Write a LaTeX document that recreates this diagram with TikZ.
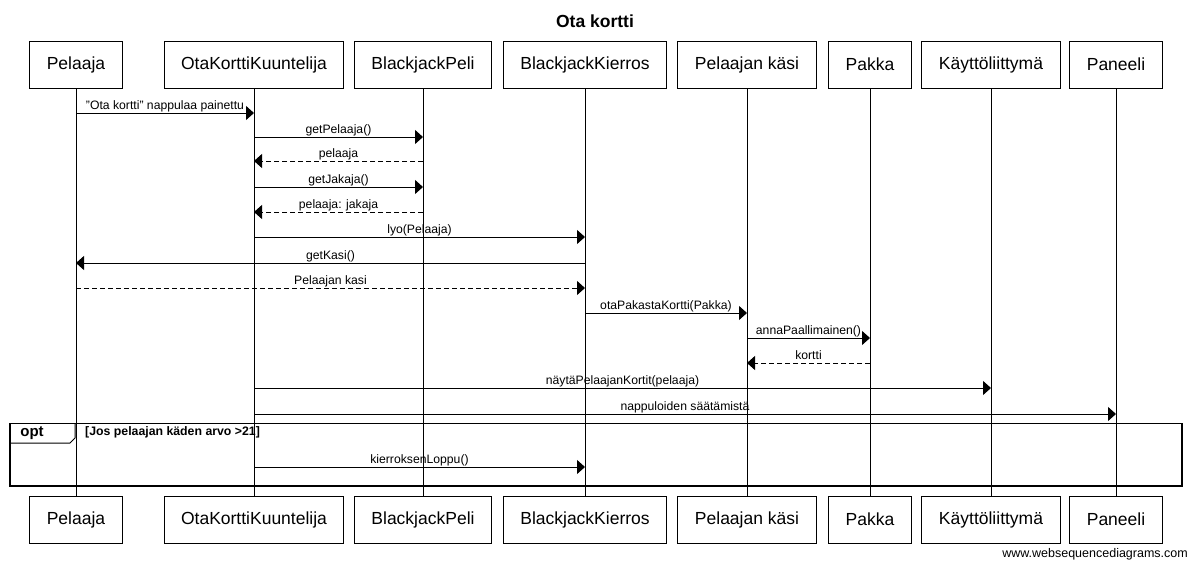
\documentclass[tikz,border=0pt]{standalone}
\usepackage{fontspec}
\setmainfont{Liberation Sans}
\usetikzlibrary{arrows.meta}
\tikzset{>/.tip={Triangle[length=8pt,width=14pt]}}
\tikzset{
  actor/.style={draw, line width=1pt, minimum height=47pt, inner xsep=17pt,
    font=\fontsize{17.5}{21}\selectfont},
  call/.style={->, line width=1pt},
  reply/.style={call, dash pattern=on 5pt off 3pt},
  msglabel/.style={anchor=south, inner sep=0pt, text depth=0pt, yshift=3pt,
    font=\fontsize{12.2}{14}\selectfont}
}

\begin{document}
\begin{tikzpicture}[x=1pt, y=-1pt]
\useasboundingbox[fill=white] (0,0) rectangle (1190,562);

\node[font=\bfseries\fontsize{17.5}{21}\selectfont] (title) at (595,21) {Ota kortti};

% osallistujat ylhaalla
\node[actor] (pel-top) at (76,64.5)   {Pelaaja};
\node[actor] (okk-top) at (254,64.5)  {OtaKorttiKuuntelija};
\node[actor] (bjp-top) at (423,64.5)  {BlackjackPeli};
\node[actor] (bjk-top) at (585,64.5)  {BlackjackKierros};
\node[actor] (kas-top) at (747,64.5)  {Pelaajan käsi};
\node[actor] (pak-top) at (870,64.5)  {Pakka};
\node[actor] (ui-top)  at (991,64.5)  {Käyttöliittymä};
\node[actor] (pan-top) at (1116,64.5) {Paneeli};

% osallistujat alhaalla
\node[actor] (pel-bot) at (76,519.5)   {Pelaaja};
\node[actor] (okk-bot) at (254,519.5)  {OtaKorttiKuuntelija};
\node[actor] (bjp-bot) at (423,519.5)  {BlackjackPeli};
\node[actor] (bjk-bot) at (585,519.5)  {BlackjackKierros};
\node[actor] (kas-bot) at (747,519.5)  {Pelaajan käsi};
\node[actor] (pak-bot) at (870,519.5)  {Pakka};
\node[actor] (ui-bot)  at (991,519.5)  {Käyttöliittymä};
\node[actor] (pan-bot) at (1116,519.5) {Paneeli};

% elamanviivat
\foreach \a in {pel,okk,bjp,bjk,kas,pak,ui,pan}
  \draw[line width=1pt] (\a-top) -- (\a-bot);

% viestirivit
\coordinate (m1) at (0,113);
\coordinate (m2) at (0,137);
\coordinate (m3) at (0,161);
\coordinate (m4) at (0,187);
\coordinate (m5) at (0,212);
\coordinate (m6) at (0,237);
\coordinate (m7) at (0,263);
\coordinate (m8) at (0,288);
\coordinate (m9) at (0,313);
\coordinate (m10) at (0,338);
\coordinate (m11) at (0,363);
\coordinate (m12) at (0,388);
\coordinate (m13) at (0,414);
\coordinate (m14) at (0,467);

\path[call] (pel-top |- m1) edge node[msglabel] {\symbol{34}Ota kortti\symbol{34} nappulaa painettu} (okk-top |- m1);
\path[call] (okk-top |- m2) edge node[msglabel] {getPelaaja()} (bjp-top |- m2);
\path[reply] (bjp-top |- m3) edge node[msglabel] {pelaaja} (okk-top |- m3);
\path[call] (okk-top |- m4) edge node[msglabel] {getJakaja()} (bjp-top |- m4);
\path[reply] (bjp-top |- m5) edge node[msglabel] {pelaaja: jakaja} (okk-top |- m5);
\path[call] (okk-top |- m6) edge node[msglabel] {lyo(Pelaaja)} (bjk-top |- m6);
\path[call] (bjk-top |- m7) edge node[msglabel] {getKasi()} (pel-top |- m7);
\path[reply] (pel-top |- m8) edge node[msglabel] {Pelaajan kasi} (bjk-top |- m8);
\path[call] (bjk-top |- m9) edge node[msglabel] {otaPakastaKortti(Pakka)} (kas-top |- m9);
\path[call] (kas-top |- m10) edge node[msglabel] {annaPaallimainen()} (pak-top |- m10);
\path[reply] (pak-top |- m11) edge node[msglabel] {kortti} (kas-top |- m11);
\path[call] (okk-top |- m12) edge node[msglabel] {näytäPelaajanKortit(pelaaja)} (ui-top |- m12);
\path[call] (okk-top |- m13) edge node[msglabel] {nappuloiden säätämistä} (pan-top |- m13);

% opt-kehys
\draw[line width=1.6pt] (10,423.5) rectangle (1182,486);
\draw[line width=1pt] (10,443) -- (70,443) -- (75,438) -- (75,423.5);
\node[font=\bfseries\fontsize{15}{17}\selectfont, inner sep=0pt] (opt) at (32,433) {opt};
\node[anchor=north west, inner sep=0pt, font=\bfseries\fontsize{12.3}{14}\selectfont] (cond) at (85,426) {[Jos pelaajan käden arvo >21]};

\path[call] (okk-top |- m14) edge node[msglabel] {kierroksenLoppu()} (bjk-top |- m14);

\node[anchor=east, inner sep=0pt, font=\fontsize{12.5}{14}\selectfont] (wsd) at (1188,554) {www.websequencediagrams.com};
\end{tikzpicture}
\end{document}
